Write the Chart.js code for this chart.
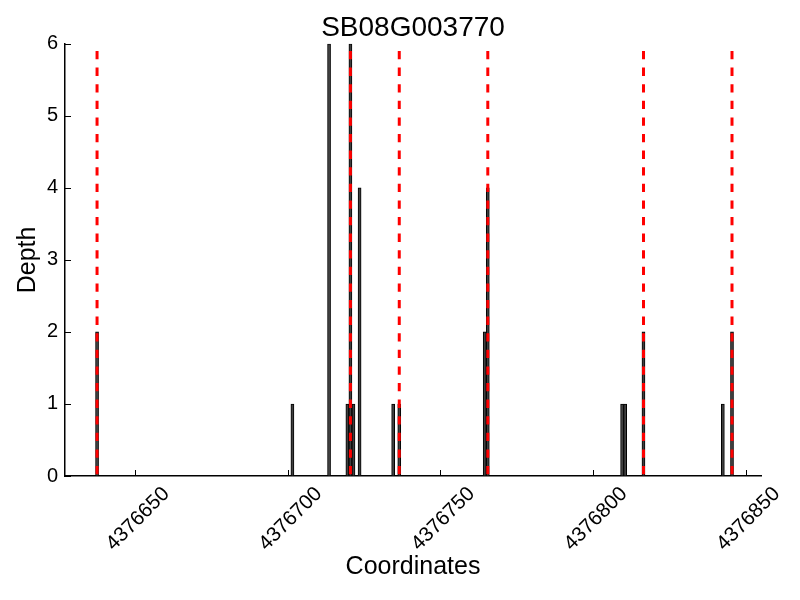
<!DOCTYPE html>
<html>
<head>
<meta charset="utf-8">
<script src="https://cdn.jsdelivr.net/npm/chart.js@4.4.1/dist/chart.umd.min.js"></script>
<style>
  html, body { margin: 0; padding: 0; background: #fff; }
</style>
</head>
<body>
<canvas id="depthChart" width="800" height="600"></canvas>
<script>
// ====== Data ======
const chartTitle = "SB08G003770";
// bar left edge coordinate, each bar is 1 base wide
const coords = [4376637, 4376701, 4376713, 4376719, 4376720, 4376721, 4376723, 4376734,
                4376736, 4376764, 4376765, 4376809, 4376810, 4376816, 4376842, 4376845];
const depths = [2, 1, 6, 1, 6, 1, 4, 1, 1, 2, 4, 1, 1, 2, 1, 2];
// red dashed markers
const markers = [4376637, 4376720, 4376736, 4376765, 4376816, 4376845];
const markerTop = 5.9;
const xTicks = [4376650, 4376700, 4376750, 4376800, 4376850];
const yTicks = [0, 1, 2, 3, 4, 5, 6];
const xMin = 4376627, xMax = 4376855;

// ====== Build datasets ======
const barPoints = coords.map((c, i) => ({ x: c + 0.5, y: depths[i] }));
const markerPoints = [];
markers.forEach(m => {
  markerPoints.push({ x: m + 0.5, y: markerTop });
  markerPoints.push({ x: m + 0.5, y: 0 });
  markerPoints.push({ x: m + 0.5, y: null });
});

// ====== Inward tick marks ======
const innerTicks = {
  id: "innerTicks",
  afterDraw(chart) {
    const { ctx, chartArea, scales } = chart;
    ctx.save();
    ctx.strokeStyle = "#000";
    ctx.lineWidth = 1;
    scales.x.ticks.forEach(t => {
      const px = Math.round(scales.x.getPixelForValue(t.value)) + 0.5;
      ctx.beginPath();
      ctx.moveTo(px, chartArea.bottom);
      ctx.lineTo(px, chartArea.bottom - 6);
      ctx.stroke();
    });
    scales.y.ticks.forEach(t => {
      const py = Math.round(scales.y.getPixelForValue(t.value)) + 0.5;
      ctx.beginPath();
      ctx.moveTo(chartArea.left, py);
      ctx.lineTo(chartArea.left + 6, py);
      ctx.stroke();
    });
    ctx.restore();
  }
};

Chart.defaults.font.family = "'Liberation Sans', Arial, sans-serif";
Chart.defaults.color = "#000";

const ctx = document.getElementById("depthChart").getContext("2d");
new Chart(ctx, {
  type: "bar",
  data: {
    datasets: [
      {
        type: "line",
        data: markerPoints,
        borderColor: "#ff0000",
        borderWidth: 3,
        borderDash: [8.3, 8.3],
        pointRadius: 0,
        spanGaps: false,
        order: 0
      },
      {
        type: "bar",
        data: barPoints,
        backgroundColor: "#404040",
        borderColor: "#000",
        borderWidth: 1,
        barPercentage: 1,
        categoryPercentage: 1,
        order: 1
      }
    ]
  },
  options: {
    responsive: false,
    animation: false,
    devicePixelRatio: 1,
    layout: { padding: { left: 0, right: 39, top: 0, bottom: 0 } },
    plugins: {
      legend: { display: false },
      tooltip: { enabled: false },
      title: {
        display: true,
        text: chartTitle,
        fullSize: false,
        color: "#000",
        font: { size: 28, weight: "normal", lineHeight: 1.1 },
        padding: { top: 13, bottom: 0 }
      }
    },
    scales: {
      x: {
        type: "linear",
        min: xMin,
        max: xMax,
        offset: false,
        afterBuildTicks: s => { s.ticks = xTicks.map(v => ({ value: v })); },
        afterFit: s => { s.height = 124; },
        grid: { drawOnChartArea: false, drawTicks: false },
        border: { color: "#000", width: 1.5 },
        ticks: {
          autoSkip: false,
          minRotation: 45,
          maxRotation: 45,
          labelOffset: 31,
          padding: 6,
          font: { size: 20.5 },
          callback: v => String(v)
        },
        title: {
          display: true,
          text: "Coordinates",
          font: { size: 25 },
          padding: { top: 0, bottom: 18 }
        }
      },
      y: {
        min: 0,
        max: 6,
        afterBuildTicks: s => { s.ticks = yTicks.map(v => ({ value: v })); },
        afterFit: s => { s.width = 65; },
        grid: { drawOnChartArea: false, drawTicks: false },
        border: { color: "#000", width: 1.5 },
        ticks: { padding: 7, font: { size: 20 } },
        title: {
          display: true,
          text: "Depth",
          font: { size: 25 },
          padding: { top: 13, bottom: 0 }
        }
      }
    }
  },
  plugins: [innerTicks]
});
</script>
</body>
</html>
